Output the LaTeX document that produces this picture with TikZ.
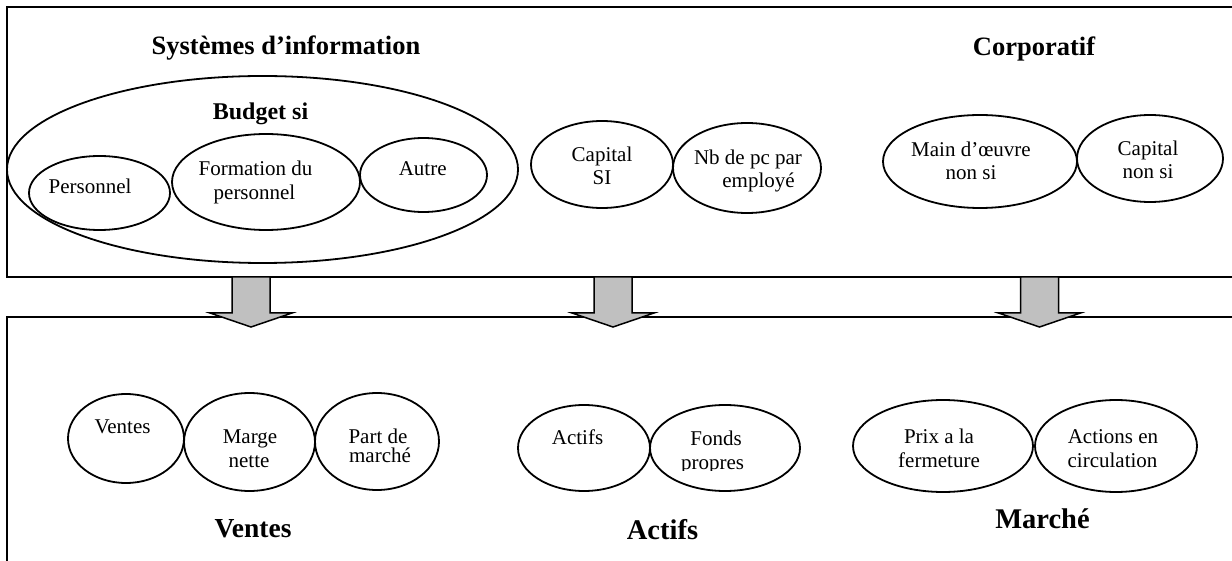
\documentclass[tikz,border=0pt]{standalone}
\usepackage{fontspec}
\setmainfont{Liberation Serif}
\usetikzlibrary{shapes.geometric}
\definecolor{shaftgrey}{HTML}{C0C0C0}
\begin{document}
\begin{tikzpicture}[x=1pt,y=-1pt,
  oval/.style={draw, ellipse, line width=1.8pt, inner sep=0pt},
  frame/.style={draw, line width=1.6pt},
  body/.style={anchor=base, inner sep=0pt, font=\fontsize{21}{24}\selectfont},
  head/.style={anchor=base, inner sep=0pt, font=\bfseries\fontsize{#1}{#1}\selectfont},
  downarrow/.pic={
    \draw[line width=1.5pt, fill=shaftgrey, line join=miter]
      (-19,0) -- (-19,36) -- (-41,36) -- (0,50) -- (41,36) -- (19,36) -- (19,0) -- cycle;
  }]
\useasboundingbox (0,0) rectangle (1232,561);

% upper and lower panels (open on the right and at the bottom)
\draw[frame] (1240,7) -- (7,7) -- (7,277) -- (1240,277);
\draw[frame] (1240,317) -- (7,317) -- (7,570);

% headings of the upper panel
\node[head=26.5] (si) at (286,55) {Systèmes d’information};
\node[head=26.5] (corp) at (1034,56) {Corporatif};

% IT budget group
\node[oval, minimum width=511pt, minimum height=187pt] (budget) at (262.5,169.5) {};
\node[head=24] (budgetlbl) at (260.5,120) {Budget si};
\node[oval, minimum width=141pt, minimum height=74pt] (pers) at (99.5,193) {};
\node[body] (perst) at (90,194) {Personnel};
\node[oval, minimum width=188pt, minimum height=96pt] (form) at (266,182) {};
\node[body] (forma) at (255.5,176) {Formation du};
\node[body] (formb) at (254.5,200) {personnel};
\node[oval, minimum width=127pt, minimum height=74pt] (autre) at (423.5,175) {};
\node[body] (autret) at (422.7,176) {Autre};

% other inputs
\node[oval, minimum width=142pt, minimum height=87pt] (capsi) at (602,164.5) {};
\node[body] (capsia) at (602,162) {Capital};
\node[body] (capsib) at (602,185) {SI};
\node[oval, minimum width=148pt, minimum height=90pt] (nbpc) at (747,168) {};
\node[body] (nbpca) at (748,165) {Nb de pc par};
\node[body] (nbpcb) at (758.5,188) {employé};
\node[oval, minimum width=194pt, minimum height=93pt] (mo) at (980,161.5) {};
\node[body] (moa) at (971,157) {Main d’œuvre};
\node[body] (mob) at (971,180) {non si};
\node[oval, minimum width=146pt, minimum height=87pt] (capns) at (1150,158.5) {};
\node[body] (capnsa) at (1148,156) {Capital};
\node[body] (capnsb) at (1148,179) {non si};

% block arrows between the panels
\pic at (251,277) {downarrow};
\pic at (613,277) {downarrow};
\pic at (1039.5,277) {downarrow};

% sales indicators
\node[oval, minimum width=116pt, minimum height=89pt] (ventes) at (126,438.5) {};
\node[body] (ventest) at (122.5,433) {Ventes};
\node[oval, minimum width=131pt, minimum height=98pt] (marge) at (249.5,442) {};
\node[body] (margea) at (250,443) {Marge};
\node[body] (margeb) at (249,467) {nette};
\node[oval, minimum width=124pt, minimum height=97pt] (part) at (377,441.5) {};
\node[body] (parta) at (378,443) {Part de};
\node[body] (partb) at (380,462) {marché};
\node[head=27.5] (ventesh) at (253,537) {Ventes};

% asset indicators
\node[oval, minimum width=132pt, minimum height=86pt] (actifs) at (584,448) {};
\node[body] (actifst) at (577.5,444) {Actifs};
\node[oval, minimum width=150pt, minimum height=86pt] (fonds) at (725,448) {};
\node[body] (fondsa) at (716,445) {Fonds};
\begin{scope}
  \clip (640,440) rectangle (800,470);
  \node[body] (fondsb) at (712.5,469) {propres};
\end{scope}
\node[head=28.5] (actifsh) at (662.5,539) {Actifs};

% market indicators
\node[oval, minimum width=180pt, minimum height=92pt] (prix) at (943,446) {};
\node[body] (prixa) at (939,443) {Prix a la};
\node[body] (prixb) at (939,467) {fermeture};
\node[oval, minimum width=162pt, minimum height=92pt] (actions) at (1116,446) {};
\node[body] (actionsa) at (1113,443) {Actions en};
\node[body] (actionsb) at (1112.5,467) {circulation};
\node[head=28.5] (marcheh) at (1042.5,528) {Marché};
\end{tikzpicture}
\end{document}
